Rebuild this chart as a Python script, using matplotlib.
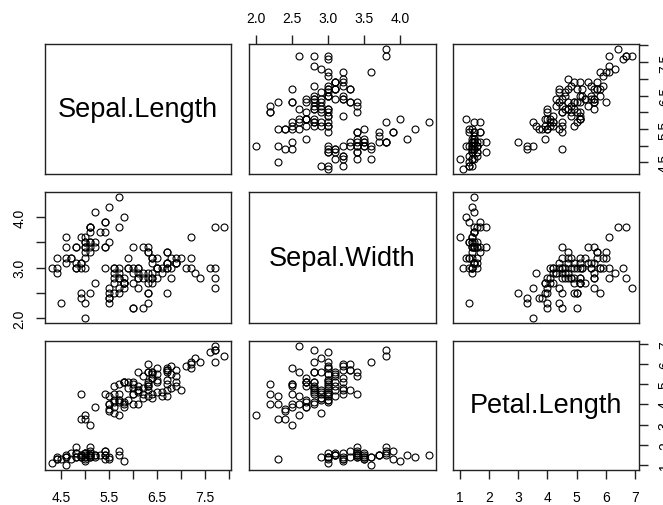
import numpy as np
import matplotlib
matplotlib.use("Agg")
import matplotlib.pyplot as plt

plt.rcParams['font.family'] = ['Liberation Sans', 'DejaVu Sans']

# iris: first three columns, rows 1-150
sepal_length = [
    5.1, 4.9, 4.7, 4.6, 5.0, 5.4, 4.6, 5.0, 4.4, 4.9, 5.4, 4.8, 4.8, 4.3, 5.8, 5.7, 5.4, 5.1, 5.7, 5.1,
    5.4, 5.1, 4.6, 5.1, 4.8, 5.0, 5.0, 5.2, 5.2, 4.7, 4.8, 5.4, 5.2, 5.5, 4.9, 5.0, 5.5, 4.9, 4.4, 5.1,
    5.0, 4.5, 4.4, 5.0, 5.1, 4.8, 5.1, 4.6, 5.3, 5.0,
    7.0, 6.4, 6.9, 5.5, 6.5, 5.7, 6.3, 4.9, 6.6, 5.2, 5.0, 5.9, 6.0, 6.1, 5.6, 6.7, 5.6, 5.8, 6.2, 5.6,
    5.9, 6.1, 6.3, 6.1, 6.4, 6.6, 6.8, 6.7, 6.0, 5.7, 5.5, 5.5, 5.8, 6.0, 5.4, 6.0, 6.7, 6.3, 5.6, 5.5,
    5.5, 6.1, 5.8, 5.0, 5.6, 5.7, 5.7, 6.2, 5.1, 5.7,
    6.3, 5.8, 7.1, 6.3, 6.5, 7.6, 4.9, 7.3, 6.7, 7.2, 6.5, 6.4, 6.8, 5.7, 5.8, 6.4, 6.5, 7.7, 7.7, 6.0,
    6.9, 5.6, 7.7, 6.3, 6.7, 7.2, 6.2, 6.1, 6.4, 7.2, 7.4, 7.9, 6.4, 6.3, 6.1, 7.7, 6.3, 6.4, 6.0, 6.9,
    6.7, 6.9, 5.8, 6.8, 6.7, 6.7, 6.3, 6.5, 6.2, 5.9,
]
sepal_width = [
    3.5, 3.0, 3.2, 3.1, 3.6, 3.9, 3.4, 3.4, 2.9, 3.1, 3.7, 3.4, 3.0, 3.0, 4.0, 4.4, 3.9, 3.5, 3.8, 3.8,
    3.4, 3.7, 3.6, 3.3, 3.4, 3.0, 3.4, 3.5, 3.4, 3.2, 3.1, 3.4, 4.1, 4.2, 3.1, 3.2, 3.5, 3.6, 3.0, 3.4,
    3.5, 2.3, 3.2, 3.5, 3.8, 3.0, 3.8, 3.2, 3.7, 3.3,
    3.2, 3.2, 3.1, 2.3, 2.8, 2.8, 3.3, 2.4, 2.9, 2.7, 2.0, 3.0, 2.2, 2.9, 2.9, 3.1, 3.0, 2.7, 2.2, 2.5,
    3.2, 2.8, 2.5, 2.8, 2.9, 3.0, 2.8, 3.0, 2.9, 2.6, 2.4, 2.4, 2.7, 2.7, 3.0, 3.4, 3.1, 2.3, 3.0, 2.5,
    2.6, 3.0, 2.6, 2.3, 2.7, 3.0, 2.9, 2.9, 2.5, 2.8,
    3.3, 2.7, 3.0, 2.9, 3.0, 3.0, 2.5, 2.9, 2.5, 3.6, 3.2, 2.7, 3.0, 2.5, 2.8, 3.2, 3.0, 3.8, 2.6, 2.2,
    3.2, 2.8, 2.8, 2.7, 3.3, 3.2, 2.8, 3.0, 2.8, 3.0, 2.8, 3.8, 2.8, 2.8, 2.6, 3.0, 3.4, 3.1, 3.0, 3.1,
    3.1, 3.1, 2.7, 3.2, 3.3, 3.0, 2.5, 3.0, 3.4, 3.0,
]
petal_length = [
    1.4, 1.4, 1.3, 1.5, 1.4, 1.7, 1.4, 1.5, 1.4, 1.5, 1.5, 1.6, 1.4, 1.1, 1.2, 1.5, 1.3, 1.4, 1.7, 1.5,
    1.7, 1.5, 1.0, 1.7, 1.9, 1.6, 1.6, 1.5, 1.4, 1.6, 1.6, 1.5, 1.5, 1.4, 1.5, 1.2, 1.3, 1.4, 1.3, 1.5,
    1.3, 1.3, 1.3, 1.6, 1.9, 1.4, 1.6, 1.4, 1.5, 1.4,
    4.7, 4.5, 4.9, 4.0, 4.6, 4.5, 4.7, 3.3, 4.6, 3.9, 3.5, 4.2, 4.0, 4.7, 3.6, 4.4, 4.5, 4.1, 4.5, 3.9,
    4.8, 4.0, 4.9, 4.7, 4.3, 4.4, 4.8, 5.0, 4.5, 3.5, 3.8, 3.7, 3.9, 5.1, 4.5, 4.5, 4.7, 4.4, 4.1, 4.0,
    4.4, 4.6, 4.0, 3.3, 4.2, 4.2, 4.2, 4.3, 3.0, 4.1,
    6.0, 5.1, 5.9, 5.6, 5.8, 6.6, 4.5, 6.3, 5.8, 6.1, 5.1, 5.3, 5.5, 5.0, 5.1, 5.3, 5.5, 6.7, 6.9, 5.0,
    5.7, 4.9, 6.7, 4.9, 5.7, 6.0, 4.8, 4.9, 5.6, 5.8, 6.1, 6.4, 5.6, 5.1, 5.6, 6.1, 5.6, 5.5, 4.8, 5.4,
    5.6, 5.1, 5.1, 5.9, 5.7, 5.2, 5.0, 5.2, 5.4, 5.1,
]

names = ["Sepal.Length", "Sepal.Width", "Petal.Length"]
data = [np.array(sepal_length), np.array(sepal_width), np.array(petal_length)]

# tick positions and which ones get labels (R drops overlapping labels)
ticks = [
    np.arange(4.5, 8.01, 0.5),
    np.arange(2.0, 4.01, 0.5),
    np.arange(1, 8, 1),
]
tick_labels_x = [
    ["4.5", "", "5.5", "", "6.5", "", "7.5", ""],
    ["2.0", "2.5", "3.0", "3.5", "4.0"],
    ["1", "2", "3", "4", "5", "6", "7"],
]
tick_labels_y = [
    ["4.5", "", "5.5", "", "6.5", "", "7.5", ""],
    ["2.0", "", "3.0", "", "4.0"],
    ["1", "2", "3", "4", "5", "6", "7"],
]

W, H = 663, 506
fig = plt.figure(figsize=(W / 100, H / 100), dpi=100)

col_x = [(45, 231), (249, 436), (453, 639)]
row_y = [(45, 175), (193, 324), (342, 471)]


def lims(v):
    r = v.max() - v.min()
    return v.min() - 0.04 * r, v.max() + 0.04 * r


n = len(names)
for i in range(n):
    for j in range(n):
        x0, x1 = col_x[j]
        y0, y1 = row_y[i]
        ax = fig.add_axes([x0 / W, 1 - y1 / H, (x1 - x0) / W, (y1 - y0) / H])
        for s in ax.spines.values():
            s.set_linewidth(1.0)
            s.set_color('#222222')
        ax.set_xlim(*lims(data[j]))
        ax.set_ylim(*lims(data[i]))
        ax.set_xticks([])
        ax.set_yticks([])

        if i == j:
            ax.text(0.5, 0.5, names[i], transform=ax.transAxes,
                    ha='center', va='center', fontsize=19.5)
        else:
            ax.plot(data[j], data[i], linestyle='none', marker='o',
                    markersize=5, markerfacecolor='none',
                    markeredgecolor='black', markeredgewidth=0.8)

        tp = dict(direction='out', length=6.5, width=1.0, color='#222222',
                  labelsize=10, pad=7)
        # x axis: top for even columns on first row, bottom for others on last row
        if i == 0 and j % 2 == 1:
            ax.set_xticks(ticks[j])
            ax.set_xticklabels(tick_labels_x[j])
            ax.xaxis.set_ticks_position('top')
            ax.tick_params(axis='x', **tp)
        if i == n - 1 and j % 2 == 0:
            ax.set_xticks(ticks[j])
            ax.set_xticklabels(tick_labels_x[j])
            ax.tick_params(axis='x', **dict(tp, pad=8))
        # y axis: left for odd rows in first column, right for even rows in last column
        if j == 0 and i % 2 == 1:
            ax.set_yticks(ticks[i])
            ax.set_yticklabels(tick_labels_y[i], rotation=90, va='center')
            ax.tick_params(axis='y', **tp)
        if j == n - 1 and i % 2 == 0:
            ax.set_yticks(ticks[i])
            ax.set_yticklabels(tick_labels_y[i], rotation=90, va='center')
            ax.yaxis.set_ticks_position('right')
            ax.tick_params(axis='y', **dict(tp, pad=7))

fig.savefig('out.png', dpi=100)
